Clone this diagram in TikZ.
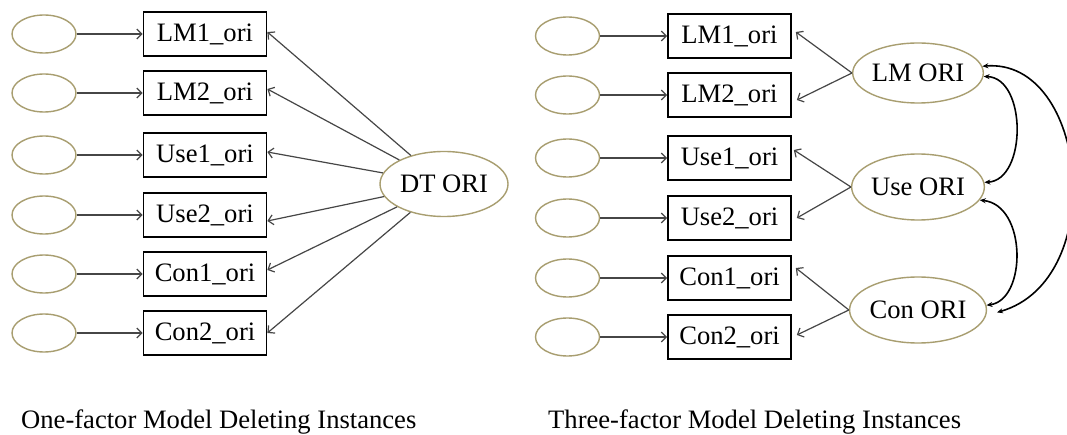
\documentclass[tikz,border=0pt]{standalone}
\usepackage{fontspec}
\setmainfont{Liberation Serif}
\usetikzlibrary{arrows.meta,shapes.geometric}
\definecolor{olivebd}{RGB}{168,158,112}
\definecolor{loadgray}{RGB}{70,70,70}
\begin{document}
\begin{tikzpicture}[x=1pt,y=-1pt,
  font=\fontsize{26.6}{30}\selectfont,
  obs/.style={draw=black,line width=1.7pt,minimum width=123pt,minimum height=44pt,inner sep=0pt},
  err/.style={ellipse,draw=olivebd,line width=1.4pt,minimum width=64pt,minimum height=38pt,inner sep=0pt},
  lat/.style={ellipse,draw=olivebd,line width=1.4pt,minimum width=130pt,minimum height=66pt,inner sep=0pt},
  load/.style={draw=loadgray,line width=1.2pt,-{Straight Barb[length=5pt,width=10pt]}},
  cov/.style={draw=black,line width=1.6pt,{Stealth[length=6pt,width=5pt]}-{Stealth[length=6pt,width=5pt]}},
  captext/.style={anchor=base west,inner sep=0pt}
]
\fill[white] (0,0) rectangle (1067,435);
\useasboundingbox (0,0) rectangle (1067,435);

% ---------- left panel ----------
\node[obs] (a1) at (205,34)  {LM1\_ori};
\node[obs] (a2) at (205,93)  {LM2\_ori};
\node[obs] (a3) at (205,155) {Use1\_ori};
\node[obs] (a4) at (205,215) {Use2\_ori};
\node[obs] (a5) at (205,274) {Con1\_ori};
\node[obs] (a6) at (205,333) {Con2\_ori};

\node[err] (ea1) at (44,34)  {};
\node[err] (ea2) at (44,93)  {};
\node[err] (ea3) at (44,155) {};
\node[err] (ea4) at (44,215) {};
\node[err] (ea5) at (44,274) {};
\node[err] (ea6) at (44,333) {};

\foreach \i in {1,...,6} \draw[load] (ea\i) -- (a\i);

\node[lat,minimum width=128pt,minimum height=65pt] (dt) at (444,184) {DT ORI};

\draw[load] (dt) -- ([yshift=2pt]a1.east);
\draw[load] (dt) -- ([yshift=4pt]a2.east);
\draw[load] (dt) -- ([yshift=3pt]a3.east);
\draw[load] (dt) -- ([yshift=-6pt]a4.east);
\draw[load] (dt) -- ([yshift=4pt]a5.east);
\draw[load] (dt) -- (a6.east);

% ---------- right panel ----------
\node[obs] (b1) at (729.5,36)  {LM1\_ori};
\node[obs] (b2) at (729.5,95)  {LM2\_ori};
\node[obs] (b3) at (729.5,158) {Use1\_ori};
\node[obs] (b4) at (729.5,218) {Use2\_ori};
\node[obs] (b5) at (729.5,278) {Con1\_ori};
\node[obs] (b6) at (729.5,337) {Con2\_ori};

\node[err] (eb1) at (567.5,36)  {};
\node[err] (eb2) at (567.5,95)  {};
\node[err] (eb3) at (567.5,158) {};
\node[err] (eb4) at (567.5,218) {};
\node[err] (eb5) at (567.5,278) {};
\node[err] (eb6) at (567.5,337) {};

\foreach \i in {1,...,6} \draw[load] (eb\i) -- (b\i);

\node[lat,minimum height=60pt] (lm)  at (918,73)  {LM ORI};
\node[lat] (use) at (918,187) {Use ORI};
\node[lat] (con) at (918,310) {Con ORI};

\draw[load] (lm.west)  -- ([xshift=4pt,yshift=4pt]b1.east);
\draw[load] (lm.west)  -- ([xshift=5pt,yshift=-5pt]b2.east);
\draw[load] (use.west) -- ([xshift=2pt,yshift=8pt]b3.east);
\draw[load] (use.west) -- ([xshift=5pt]b4.east);
\draw[load] (con.west) -- ([xshift=4pt,yshift=10pt]b5.east);
\draw[load] (con.west) -- ([xshift=5pt,yshift=2pt]b6.east);

\draw[cov] (lm.6) .. controls (1088,58) and (1110,280) .. ([xshift=10pt]con.-2);
\draw[cov] (lm.-3) .. controls (1027,78) and (1027,180) .. (use.4);
\draw[cov] (use.-12) .. controls (1027,205) and (1027,300) .. (con.4);

% ---------- captions ----------
\node[captext] (cap1) at (21,428)  {One-factor Model Deleting Instances};
\node[captext] (cap2) at (548,428) {Three-factor Model Deleting Instances};
\end{tikzpicture}
\end{document}
